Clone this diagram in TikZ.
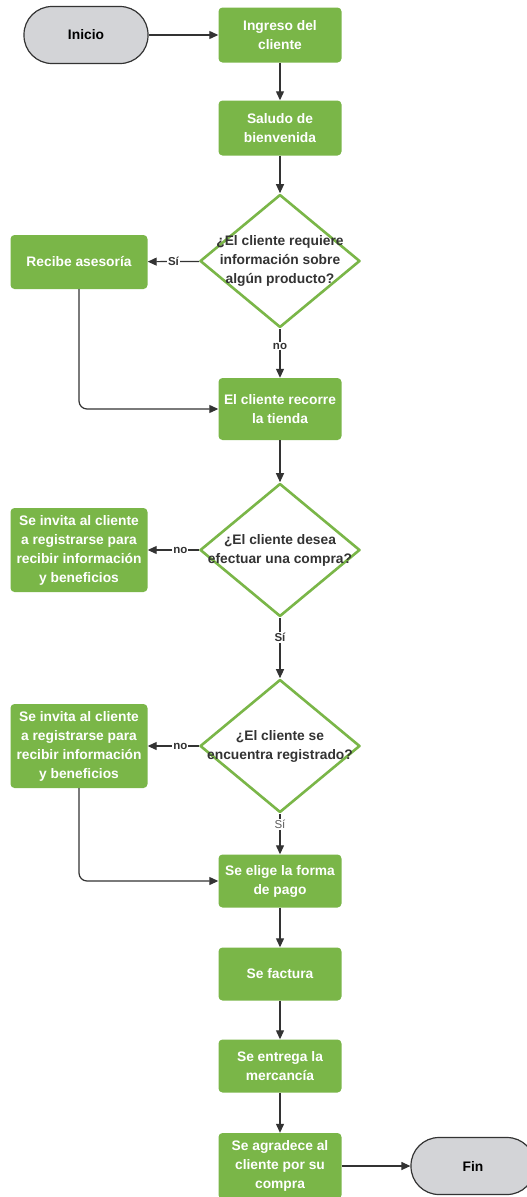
\documentclass[tikz,border=0pt]{standalone}
\usepackage{fontspec}
\setmainfont{Liberation Sans}
\usetikzlibrary{shapes.geometric,arrows.meta}
\definecolor{fcgreen}{HTML}{7AB648}
\definecolor{fcink}{HTML}{333333}
\definecolor{fcterm}{HTML}{D3D4D7}

\begin{document}
\begin{tikzpicture}[x=1pt,y=-1pt,
  proc/.style={fill=fcgreen,rounded corners=4pt,minimum width=123pt,minimum height=55pt,
    align=center,text=white,inner sep=2pt,font=\bfseries\fontsize{13.8}{19}\selectfont},
  term/.style={draw=fcink,line width=1.2pt,fill=fcterm,rounded corners=28pt,minimum width=124pt,
    minimum height=57pt,text=black,font=\bfseries\fontsize{13.8}{16}\selectfont},
  dec/.style={diamond,draw=fcgreen,line width=2.6pt,line join=round,fill=white,
    minimum width=160pt,minimum height=133pt,inner sep=0pt},
  dectxt/.style={align=center,text=fcink,inner sep=0pt,font=\bfseries\fontsize{13.8}{19}\selectfont},
  flow/.style={draw=fcink,line width=1.2pt,-{Triangle[length=9pt,width=8pt]}},
  ans/.style={fill=white,inner sep=1pt,text=fcink,font=\bfseries\fontsize{11.5}{12}\selectfont}]
  \useasboundingbox (0,0) rectangle (527,1197);
  % terminals
  \node[term] (inicio) at (86,35) {Inicio};
  \node[term] (fin) at (473,1166) {Fin};
  % main column
  \node[proc] (ingreso) at (280,35) {Ingreso del\\cliente};
  \node[proc] (saludo) at (280,128) {Saludo de\\bienvenida};
  \node[dec] (d1) at (280,261) {};
  \node[dectxt] (d1t) at (d1) {¿El cliente requiere\\información sobre\\algún producto?};
  \node[proc,minimum height=62pt] (recorre) at (280,409) {El cliente recorre\\la tienda};
  \node[dec] (d2) at (280,550) {};
  \node[dectxt] (d2t) at (d2) {¿El cliente desea\\efectuar una compra?};
  \node[dec] (d3) at (280,746) {};
  \node[dectxt] (d3t) at (d3) {¿El cliente se\\encuentra registrado?};
  \node[proc,minimum height=53pt] (elige) at (280,881) {Se elige la forma\\de pago};
  \node[proc,minimum height=53pt] (factura) at (280,974) {Se factura};
  \node[proc,minimum height=53pt] (entrega) at (280,1066) {Se entrega la\\mercancía};
  \node[proc,minimum height=66pt] (agradece) at (280,1166) {Se agradece al\\cliente por su\\compra};
  % side column
  \node[proc,minimum width=137pt,minimum height=54pt] (recibe) at (79,262) {Recibe asesoría};
  \node[proc,minimum width=137pt,minimum height=84pt] (invita1) at (79,550) {Se invita al cliente\\a registrarse para\\recibir información\\y beneficios};
  \node[proc,minimum width=137pt,minimum height=84pt] (invita2) at (79,746) {Se invita al cliente\\a registrarse para\\recibir información\\y beneficios};
  % connectors
  \foreach \a/\b in {inicio/ingreso,ingreso/saludo,saludo/d1,recorre/d2,elige/factura,factura/entrega,entrega/agradece,agradece/fin}{
    \draw[flow] (\a) -- (\b);}
  \draw[flow] (d1) -- node[ans,pos=0.5]{Sí} (recibe);
  \draw[flow] (d1) -- node[ans,pos=0.35]{no} (recorre);
  \draw[flow] (d2) -- node[ans,pos=0.36]{no} (invita1);
  \draw[flow] (d2) -- node[ans,pos=0.33]{Sí} (d3);
  \draw[flow] (d3) -- node[ans,pos=0.36]{no} (invita2);
  \draw[flow] (d3) -- node[ans,pos=0.27,font=\fontsize{11.5}{12}\selectfont,text=fcink!80]{Sí} (elige);
  \draw[flow,rounded corners=8pt] (recibe) |- (recorre);
  \draw[flow,rounded corners=8pt] (invita2) |- (elige);
\end{tikzpicture}
\end{document}
